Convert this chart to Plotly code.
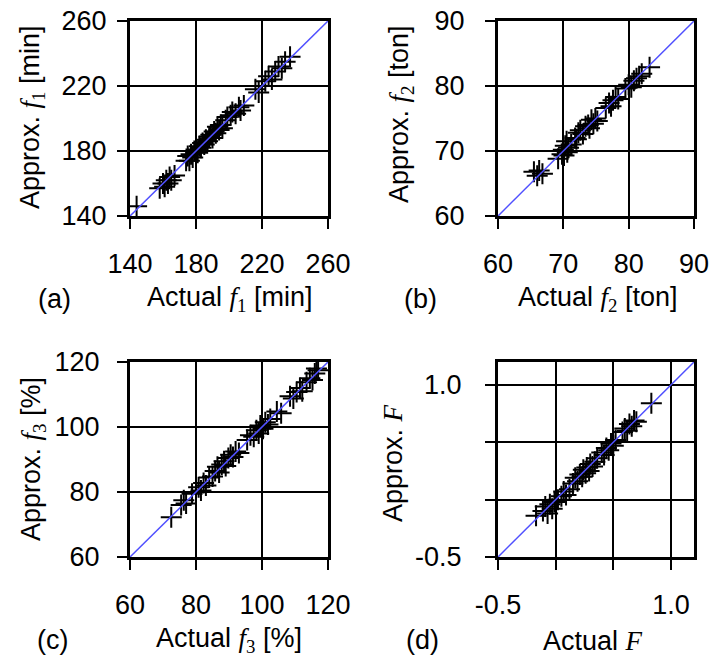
import plotly.graph_objects as go

# ---- data: actual vs. approximated objective values ----
actual_f1 = [144, 158, 160, 161, 162, 163, 164, 165, 167, 174, 175, 176, 177, 178, 179, 180, 181,
             182, 183, 184, 185, 186, 187, 188, 189, 190, 191, 192, 193, 194, 195, 196, 198, 199,
             201, 202, 204, 206, 207, 209, 216, 218, 222, 224, 226, 228, 230, 232, 234, 237]
approx_f1 = [146, 157, 160, 158, 162, 160, 164, 162, 165, 174, 177, 174, 178, 176, 180, 181, 179,
             183, 182, 185, 184, 187, 186, 189, 190, 188, 192, 191, 195, 193, 196, 194, 199, 201,
             202, 204, 203, 207, 205, 208, 218, 216, 223, 226, 224, 229, 232, 231, 235, 238]

actual_f2 = [65.5, 66.0, 66.3, 66.8, 69.2, 69.8, 70.0, 70.1, 70.3, 70.5, 70.6, 70.8, 71.2, 71.8,
             72.0, 72.3, 72.6, 73.0, 73.4, 73.8, 74.0, 74.3, 74.6, 74.9, 75.2, 76.5, 77.0, 77.3,
             77.6, 78.0, 78.4, 79.5, 80.0, 80.4, 80.8, 81.2, 81.6, 82.0, 83.2]
approx_f2 = [66.8, 66.2, 67.0, 66.5, 68.8, 69.5, 70.2, 69.3, 70.8, 71.5, 69.8, 70.5, 71.0, 72.0,
             71.8, 72.8, 73.2, 72.6, 73.8, 74.0, 73.5, 74.8, 74.2, 75.0, 74.6, 76.6, 77.4, 76.9,
             77.8, 78.3, 78.0, 79.6, 80.2, 79.8, 80.8, 81.2, 81.5, 81.9, 82.9]

actual_f3 = [72.5, 75.5, 76.3, 77.0, 78.8, 80.0, 80.8, 81.5, 82.3, 83.0, 84.0, 85.0, 85.8, 86.5,
             87.0, 87.8, 88.5, 89.0, 89.8, 90.5, 91.2, 92.0, 93.0, 95.5, 96.5, 97.5, 98.3, 99.0,
             99.5, 100.3, 101.0, 101.8, 102.5, 104.5, 105.8, 108.5, 109.5, 110.5, 111.5, 112.2,
             113.5, 114.5, 115.3, 116.0, 116.5, 117.0]
approx_f3 = [72.2, 76.0, 77.5, 76.5, 79.5, 80.0, 81.5, 80.5, 82.8, 82.0, 84.5, 84.8, 86.5, 87.8,
             86.0, 88.5, 89.5, 88.0, 90.5, 91.5, 90.8, 92.5, 92.0, 96.0, 97.5, 97.0, 99.0, 98.0,
             100.5, 99.5, 101.5, 100.8, 102.5, 104.8, 104.2, 109.5, 108.8, 110.8, 112.0, 111.0,
             113.8, 115.0, 114.5, 116.5, 118.0, 117.5]

actual_F = [-0.17, -0.11, -0.09, -0.07, -0.05, -0.03, -0.01, 0.02, 0.05, 0.07, 0.09, 0.12, 0.15,
            0.17, 0.19, 0.21, 0.23, 0.24, 0.26, 0.27, 0.29, 0.30, 0.32, 0.34, 0.36, 0.40, 0.42,
            0.44, 0.46, 0.48, 0.50, 0.52, 0.58, 0.60, 0.62, 0.64, 0.66, 0.68, 0.70, 0.83]
approx_F = [-0.14, -0.10, -0.06, -0.12, -0.04, -0.08, -0.02, 0.00, 0.03, 0.07, 0.04, 0.09, 0.14,
            0.19, 0.16, 0.22, 0.20, 0.26, 0.23, 0.28, 0.25, 0.31, 0.29, 0.33, 0.36, 0.41, 0.39,
            0.45, 0.43, 0.49, 0.47, 0.52, 0.59, 0.62, 0.60, 0.66, 0.64, 0.69, 0.68, 0.84]

# axis ranges and tick settings per panel
ranges = [(140, 260), (60, 90), (60, 120), (-0.5, 1.2)]
tick_vals = [[140, 180, 220, 260], [60, 70, 80, 90], [60, 80, 100, 120], [-0.5, 0.0, 0.5, 1.0]]
tick_text = [["140", "180", "220", "260"], ["60", "70", "80", "90"],
             ["60", "80", "100", "120"], ["-0.5", " ", " ", "1.0"]]

panel_tags = ["(a)", "(b)", "(c)", "(d)"]
SERIF = "font-family:'Liberation Serif','Times New Roman',serif"
sym = [f'<span style="{SERIF}"><i>f</i><sub>1</sub></span>',
       f'<span style="{SERIF}"><i>f</i><sub>2</sub></span>',
       f'<span style="{SERIF}"><i>f</i><sub>3</sub></span>',
       f'<span style="{SERIF}"><i>F</i></span>']
units = [" [min]", " [ton]", " [%]", ""]

series = [(actual_f1, approx_f1), (actual_f2, approx_f2), (actual_f3, approx_f3), (actual_F, approx_F)]

W, H = 715, 660
SANS = "Liberation Sans, Arial, sans-serif"
FS = 27

# pixel boxes of the four plot areas (left, right, top, bottom)
boxes = [(130, 328, 21, 216), (498, 694, 21, 216), (130, 328, 362, 557), (498, 694, 362, 557)]
# gap between y tick marks and their labels, per panel
y_standoff = [5, 15, 12, 18]

fig = go.Figure()
layout = dict(width=W, height=H, margin=dict(l=0, r=0, t=0, b=0),
              paper_bgcolor="white", plot_bgcolor="white", showlegend=False,
              font=dict(family=SANS, size=FS, color="black"))
annotations = []

for i in range(4):
    sfx = "" if i == 0 else str(i + 1)
    xa, ya = "x" + sfx, "y" + sfx
    l, r, t, b = boxes[i]
    lo, hi = ranges[i]
    ax_common = dict(range=[lo, hi], tickvals=tick_vals[i], ticktext=tick_text[i],
                     showgrid=True, gridcolor="black", gridwidth=1.8,
                     showline=True, linecolor="black", linewidth=3, mirror=True,
                     ticks="outside", ticklen=10, tickwidth=1.8, tickcolor="black",
                     zeroline=False, automargin=False,
                     tickfont=dict(family=SANS, size=FS, color="black"))
    layout["xaxis" + sfx] = dict(ax_common, domain=[l / W, r / W], anchor=ya, ticklabelstandoff=12)
    layout["yaxis" + sfx] = dict(ax_common, domain=[1 - b / H, 1 - t / H], anchor=xa,
                                 ticklabelstandoff=y_standoff[i])

    xs, ys = series[i]
    fig.add_trace(go.Scatter(x=xs, y=ys, xaxis=xa, yaxis=ya, mode="markers",
                             marker=dict(symbol="cross-thin", size=15, color="black",
                                         line=dict(color="black", width=2))))
    fig.add_trace(go.Scatter(x=[lo, hi], y=[lo, hi], xaxis=xa, yaxis=ya, mode="lines",
                             line=dict(color="rgb(80,80,255)", width=1.5)))

# axis titles and panel tags
title_pos = [
    # (x-title cx, cy), (y-title cx, cy), (tag cx, cy)
    ((230, 299), (32, 117), (54, 299)),
    ((598, 299), (401, 114), (420, 299)),
    ((229, 640), (33, 459), (52, 640)),
    ((593, 641), (393, 463), (422, 640)),
]
for i in range(4):
    (xcx, xcy), (ycx, ycy), (tcx, tcy) = title_pos[i]
    annotations.append(dict(text="Actual " + sym[i] + units[i], x=xcx / W, y=1 - xcy / H,
                            xref="paper", yref="paper", xanchor="center", yanchor="middle",
                            showarrow=False, font=dict(family=SANS, size=FS, color="black")))
    annotations.append(dict(text="Approx. " + sym[i] + units[i], x=ycx / W, y=1 - ycy / H,
                            xref="paper", yref="paper", xanchor="center", yanchor="middle",
                            textangle=-90, showarrow=False,
                            font=dict(family=SANS, size=FS, color="black")))
    annotations.append(dict(text=panel_tags[i], x=tcx / W, y=1 - tcy / H,
                            xref="paper", yref="paper", xanchor="center", yanchor="middle",
                            showarrow=False, font=dict(family=SANS, size=FS, color="black")))

layout["annotations"] = annotations
fig.update_layout(**layout)
fig.write_html("out.html")
